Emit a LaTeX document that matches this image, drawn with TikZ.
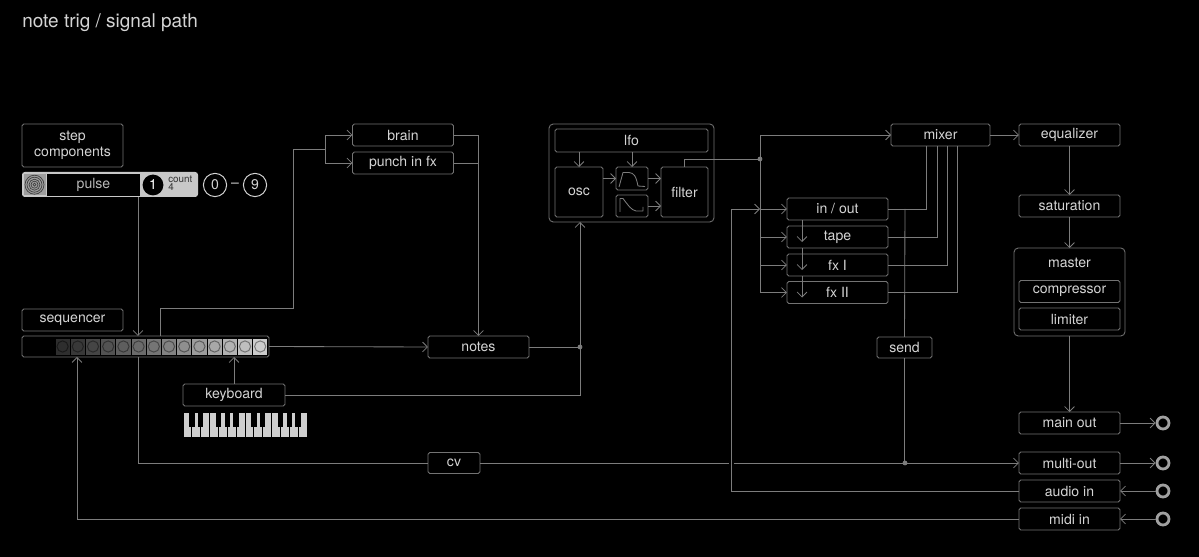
\documentclass[tikz,border=0pt]{standalone}
\usepackage{fontspec}
\setmainfont{TeX Gyre Heros}
\usetikzlibrary{arrows.meta}
\usetikzlibrary{calc}
\definecolor{linec}{HTML}{7C7C7C}
\definecolor{boxc}{HTML}{737373}
\definecolor{txtc}{HTML}{D4D4D4}
\definecolor{pulsec}{HTML}{C8C8C8}
\definecolor{keyc}{HTML}{CFCFCF}
\definecolor{ringc}{HTML}{A0A0A0}
\def\jack(#1)#2{ \node[jackc] (#2) at (#1) {}; } % Syntax: (position) name

\begin{document}
\begin{tikzpicture}[x=0.025cm,y=-0.025cm,
  lbl/.style={font=\fontsize{10}{11}\selectfont, text=txtc},
  box/.style={draw=boxc, line width=0.6pt, rounded corners=1.2pt, inner sep=0pt, outer sep=0pt,
              minimum width=2.525cm, minimum height=0.55cm, lbl},
  wd/.style={minimum width=#1*0.025cm},
  ht/.style={minimum height=#1*0.025cm},
  wire/.style={draw=linec, line width=0.6pt},
  arr/.style={wire, -{Straight Barb[length=3.5pt,width=7pt]}},
  dotc/.style={circle, fill=linec, inner sep=0pt, minimum size=0.12cm},
  jackc/.style={circle, draw=ringc, line width=2pt, inner sep=0pt, minimum size=0.3cm}]

  \fill[black] (0,0) rectangle (1199,557); % background
  \useasboundingbox (0,0) rectangle (1199,557);

  \node[anchor=base west, inner sep=0pt, text=txtc, font=\fontsize{13.5}{16}\selectfont] (title) at (22,28) {note trig / signal path};

  % step components
  \node[box, ht=43, align=center] (stepc) at (72.5,145.5) {step\\components};
  \node[fill=pulsec, rounded corners=2pt, inner sep=0pt, wd=176, ht=25] (pulse) at (110,184.5) {};
  \fill[white!62!black] (23.5,174) rectangle (45.5,195.5);
  \foreach \r in {1.5,3.5,5.5,7.5,9.5} \draw[black!75, line width=0.5pt] (34.5,184.7) circle (\r);
  \node[fill=black, inner sep=0pt, wd=93, ht=22, font=\fontsize{10}{11}\selectfont, text=white!72!black] (pulsetxt) at (93.5,185) {pulse};
  \node[circle, fill=black, inner sep=0pt, minimum size=0.52cm, text=white, font=\fontsize{10}{11}\selectfont] (one) at (153,185) {1};
  \node[anchor=west, inner sep=0pt, align=left, text=black!80, font=\fontsize{7}{5.6}\selectfont] (count) at (168,183.5) {count\\4};
  \node[circle, draw=txtc, line width=0.7pt, inner sep=0pt, minimum size=0.58cm, lbl] (lo) at (215,185) {0};
  \node[lbl] (dash) at (235,185) {--};
  \node[circle, draw=txtc, line width=0.7pt, inner sep=0pt, minimum size=0.58cm, lbl] (hi) at (255,185) {9};

  % sequencer
  \node[box] (seqlbl) at (72.5,320) {sequencer};
  \node[box, wd=247, ht=21] (seqbar) at (145.5,346.5) {};
  \foreach \i in {0,...,13} {
    \pgfmathsetmacro\g{int(18+\i*4.8)}
    \pgfmathsetmacro\h{int(0.6*(18+\i*4.8))}
    \draw[fill=white!\g!black, draw=black, line width=0.5pt] (55+\i*15.2,338) rectangle ++(15.2,17);
    \draw[draw=white!\h!black, line width=0.7pt] (62.6+\i*15.2,346.5) circle (5.6);
  }

  % keyboard
  \node[box, wd=102] (keyb) at (234,395) {keyboard};
  \foreach \k in {0,...,13} \draw[fill=keyc, draw=black, line width=0.6pt] (183+\k*8.857,412) rectangle ++(8.857,25);
  \foreach \k in {1,2,4,5,6,8,9,11,12,13} \fill[black] (183+\k*8.857-2.7,412) rectangle ++(5.4,15);

  \node[box] (brain) at (403,135) {brain};
  \node[box] (punch) at (403,163) {punch in fx};
  \node[box] (notes) at (478.5,347) {notes};
  \node[box, wd=52, ht=21] (cv) at (454,463) {cv};

  % voice
  \node[box, wd=165, ht=98, rounded corners=3pt] (voice) at (631.5,173) {};
  \node[box, wd=153, ht=23] (lfo) at (631.5,140.5) {lfo};
  \node[box, wd=48, ht=50] (osc) at (579,192) {osc};
  \node[box, wd=47, ht=50] (filter) at (684.5,192) {filter};
  \node[box, wd=32, ht=23] (envA) at (632,178.5) {};
  \node[box, wd=32, ht=22] (envB) at (632,206) {};
  \draw[wire, line join=round] (619,187) -- (623,172.5) -- (629,172.5) .. controls (634,173) and (636,176) .. (638,186) -- (645,186.5);
  \draw[wire, line join=round] (620,212) -- (620,198.5) -- (623,198.5) .. controls (628,205) and (631,210) .. (636,211) -- (643,211) -- (643,207);

  % fx chain
  \node[box] (inout) at (837.5,209) {in / out};
  \node[box] (tape) at (837.5,237) {tape};
  \node[box] (fxa) at (837.5,265) {fx I};
  \node[box] (fxb) at (837.5,292.5) {fx II};
  \node[box, wd=55, ht=21] (send) at (904.5,347.5) {send};
  \node[box, wd=99] (mixer) at (940.5,135) {mixer};

  % master
  \node[box] (eq) at (1069.5,135) {equalizer};
  \node[box] (sat) at (1069.5,206) {saturation};
  \node[box, wd=111, ht=88, rounded corners=3pt] (master) at (1069.5,292) {};
  \node[lbl] (mastertxt) at (1069.5,263) {master};
  \node[box] (comp) at (1069.5,291.5) {compressor};
  \node[box] (lim) at (1069.5,319) {limiter};
  \node[box] (mainout) at (1069.5,423) {main out};
  \node[box] (multiout) at (1069.5,463) {multi-out};
  \node[box] (audioin) at (1069.5,491) {audio in};
  \node[box] (midiin) at (1069.5,519) {midi in};
  \jack(1163,423){jA}
  \jack(1163,463){jB}
  \jack(1163,491){jC}
  \jack(1163,519){jD}

  % lanes
  \coordinate (tapA) at (138,0);
  \coordinate (tapB) at (160,308);
  \coordinate (jog) at (293,149);
  \coordinate (fork) at (325,149);
  \coordinate (midix) at (77,0);
  \coordinate (ndot) at (580,347);
  \coordinate (bus) at (760,135);
  \coordinate (fdot) at (760,159);
  \coordinate (audx) at (731,209);
  \coordinate (chain) at (802,0);
  \coordinate (sendx) at (905,0);
  \coordinate (cvdot) at (905,463);
  \coordinate (retA) at (926,0);
  \coordinate (retB) at (937,0);
  \coordinate (retC) at (947,0);
  \coordinate (retD) at (957,0);

  % draw connectors
  \draw[arr] (pulse.south -| tapA) -- (seqbar.north -| tapA);
  \draw[wire] (seqbar.north -| tapB) -- (tapB) -- (tapB -| jog) -- (jog) -- (fork);
  \draw[arr] (fork) |- (brain.west);
  \draw[arr] (fork) |- (punch.west);
  \draw[arr] (brain.east) -| (notes.north);
  \draw[wire] (punch.east) -- (punch.east -| notes.north);
  \draw[arr] (seqbar.east) -- (notes.west);
  \draw[wire] (notes.east) -- (ndot);
  \draw[wire] (keyb.east) -| (ndot);
  \draw[arr] (ndot) -- (ndot |- voice.south);
  \draw[arr] (keyb.north) -- (keyb.north |- seqbar.south);
  \draw[arr] (midiin.west) -| (seqbar.south -| midix);
  \draw[wire] (seqbar.south -| tapA) |- (cv.west);
  \draw[wire] (cv.east) -- ($(audx |- cv.east)+(-2.5,0)$);
  \draw[arr] ($(audx |- multiout.west)+(2.5,0)$) -- (multiout.west);
  \draw[wire] (audioin.west) -| (audx);
  \draw[arr] (audx) -- (bus |- audx);
  \draw[arr] (bus) -- (mixer.west);
  \draw[wire] (bus) -- (bus |- fxb.west);
  \foreach \b in {inout,tape,fxa,fxb} \draw[arr] (bus |- \b.west) -- (\b.west);
  \draw[wire] (filter.north) |- (fdot);
  \foreach \a/\b in {inout/tape,tape/fxa,fxa/fxb} \draw[arr] (chain |- \a.south) -- ($(chain |- \b.south)+(0,-6)$);
  \foreach \b/\r in {inout/retA,tape/retB,fxa/retC,fxb/retD} \draw[wire] (\b.east) -| (\r |- mixer.south);
  \draw[wire] (inout.east -| sendx) -- (send.north);
  \draw[wire] (send.south) -- (send.south |- cvdot);
  \draw[arr] (mixer.east) -- (eq.west);
  \draw[arr] (eq.south) -- (sat.north);
  \draw[arr] (sat.south) -- (master.north);
  \draw[arr] (master.south) -- (mainout.north);
  \draw[arr] (mainout.east) -- (jA.west);
  \draw[arr] (multiout.east) -- (jB.west);
  \draw[arr] (jC.west) -- (audioin.east);
  \draw[arr] (jD.west) -- (midiin.east);

  % voice arrows
  \draw[arr] (osc.north |- lfo.south) -- (osc.north);
  \draw[arr] (envA.north |- lfo.south) -- (envA.north);
  \draw[arr] (osc.east |- envA.west) -- (envA.west);
  \draw[arr] (envA.east) -- (filter.west |- envA.east);
  \draw[arr] (envB.east) -- (filter.west |- envB.east);

  % draw dots
  \node[dotc] (dA) at (ndot) {};
  \node[dotc] (dB) at (fdot) {};
  \node[dotc] (dC) at (cvdot) {};
\end{tikzpicture}
\end{document}
